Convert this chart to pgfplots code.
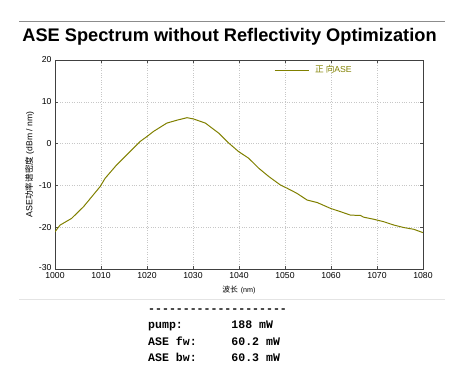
\documentclass[border=0pt]{standalone}
\usepackage{fontspec}
\setmainfont{Liberation Sans}
\setmonofont{Liberation Mono}
\newfontfamily\cjk{Noto Sans CJK SC}
\usepackage{pgfplots}
\pgfplotsset{compat=1.18}
\definecolor{olivec}{RGB}{128,128,0}
\begin{document}
\begin{tikzpicture}
\path[use as bounding box] (0,0) rectangle (466bp,375bp);
\draw[color={rgb,255:red,140;green,140;blue,140}, line width=0.8pt] (19bp,353.7bp) -- (445bp,353.7bp);
\draw[color={rgb,255:red,228;green,228;blue,228}, line width=0.8pt] (19bp,75.7bp) -- (445bp,75.7bp);
\node[anchor=base, inner sep=0, font=\fontsize{18.3}{22}\selectfont\bfseries] at (229.5bp,333.3bp) {ASE Spectrum without Reflectivity Optimization};
\begin{axis}[
  at={(55bp,106bp)}, anchor=south west,
  scale only axis, width=368bp, height=209bp,
  xmin=1000, xmax=1080, ymin=-30, ymax=20,
  xtick={1000,1010,...,1080}, ytick={-30,-20,...,20},
  yticklabels={\raisebox{4bp}{-30},-20,-10,0,10,20},
  /pgf/number format/assume math mode=true,
  /pgf/number format/1000 sep={},
  ticklabel style={font=\fontsize{8.7}{10}\selectfont},
  tick align=inside, major tick length=3bp,
  tick style={color=black!70, line width=0.5pt},
  axis line style={color=black!75, line width=0.6pt},
  grid=major, major grid style={dotted, color=black!22, line width=0.5pt},
  xlabel={{\cjk\fontsize{7.8}{9}\selectfont 波长} {\fontsize{7.2}{9}\selectfont (nm)}},
  ylabel={{\fontsize{8.9}{10}\selectfont ASE}{\cjk\fontsize{8.6}{10}\selectfont 功率谱密度} {\fontsize{8.6}{10}\selectfont (dBm / nm)}},
  xlabel style={yshift=0bp},
  ylabel style={yshift=-2bp},
  legend style={draw=none, fill=none, at={(0.595,0.952)}, anchor=west, inner sep=0pt, text=olivec, font=\fontsize{8.7}{10}\selectfont},
  legend image code/.code={\draw[#1] (0bp,0bp) -- (34bp,0bp);},
  legend cell align=left,
]
\addplot[color=olivec, line width=1pt] coordinates {
(1000,-21.1) (1001.1,-19.5) (1003.6,-17.9) (1006.2,-15.1) (1008.3,-12.3)
(1009.8,-10.3) (1010.9,-8.3) (1013.4,-5.1) (1016.7,-1.5) (1018.5,0.5)
(1020,1.7) (1021.4,2.9) (1024.3,4.9) (1026.5,5.6) (1028.7,6.2)
(1030.1,5.9) (1032.7,4.9) (1035.6,2.5) (1037.8,0.1) (1039.9,-1.9)
(1042.1,-3.5) (1044.3,-5.9) (1046.5,-7.9) (1049,-9.9) (1050.5,-10.7)
(1052.6,-11.9) (1054.8,-13.5) (1057,-14.1) (1059.9,-15.5) (1062.1,-16.3)
(1064.2,-17.1) (1066.4,-17.2) (1067.1,-17.6) (1069.3,-18.1) (1071.5,-18.7)
(1073.7,-19.5) (1075.9,-20.1) (1078,-20.5) (1080,-21.3)
};
\addlegendentry{\hspace{4bp}{\cjk 正 向}ASE}
\end{axis}
\begin{scope}[every node/.style={anchor=base west, inner sep=0, font=\ttfamily\bfseries\fontsize{11.6}{13}\selectfont}]
\node at (148bp,62bp) {--------------------};
\node at (148bp,46bp) {pump:\ \ \ \ \ \ \ 188 mW};
\node at (148bp,29.5bp) {ASE fw:\ \ \ \ \ 60.2 mW};
\node at (148bp,13.5bp) {ASE bw:\ \ \ \ \ 60.3 mW};
\end{scope}
\end{tikzpicture}
\end{document}
